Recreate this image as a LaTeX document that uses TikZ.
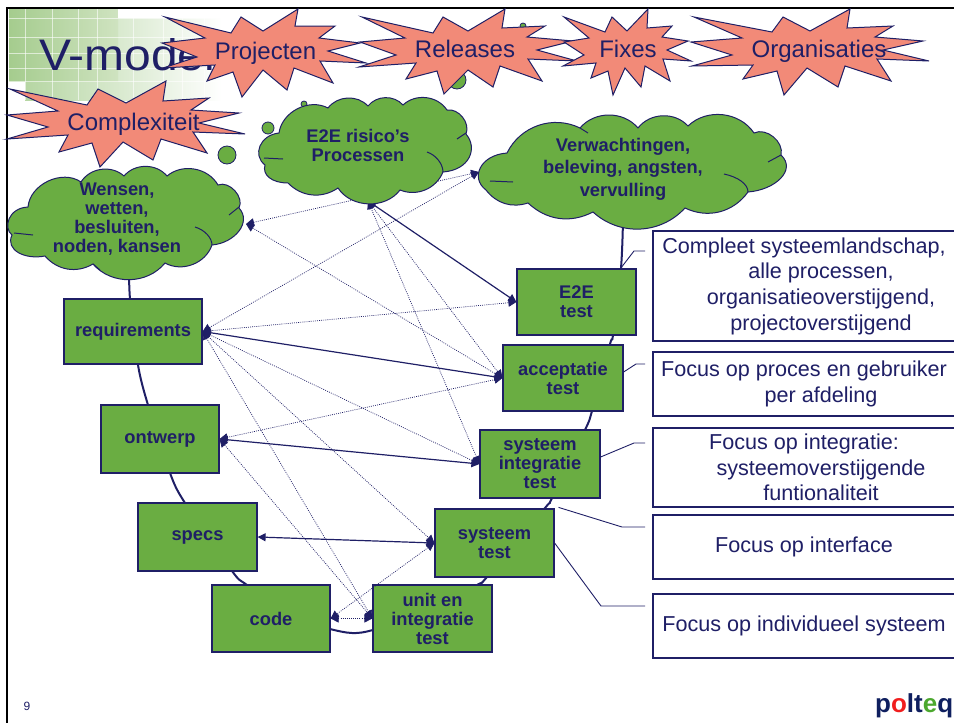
\documentclass[tikz,border=0pt]{standalone}
\usepackage{graphicx}
\usepackage{fontspec}
\setmainfont{Liberation Sans}
\usetikzlibrary{arrows.meta}
\definecolor{navy}{HTML}{1F1F66}
\definecolor{leaf}{HTML}{6AAD42}
\definecolor{salmon}{HTML}{F28A78}
\definecolor{logored}{HTML}{F01E1E}
\definecolor{logogreen}{HTML}{4CA82E}
\definecolor{logonavy}{HTML}{0F1F5F}
\definecolor{gridA}{HTML}{A5CC8E}
\definecolor{gridB}{HTML}{CFE3C0}
\definecolor{gridC}{HTML}{B6D6A3}
\tikzset{
  stepbox/.style={draw=navy,line width=1.2pt,fill=leaf,text=navy,inner sep=0pt,align=center,font=\fontsize{18.3}{19}\selectfont\bfseries},
  focusbox/.style={draw=navy,line width=1.1pt,fill=white,text=navy,inner sep=0pt,align=center,minimum width=302pt,font=\fontsize{21.6}{25.7}\selectfont},
  cloudfill/.style={draw=navy,line width=1pt,fill=leaf},
  cloudline/.style={draw=navy,line width=1pt},
  cloudtext/.style={text=navy,align=center,inner sep=0pt},
  starshape/.style={draw=navy,line width=1pt,fill=salmon,line join=miter},
  startext/.style={anchor=base,text=navy,inner sep=0pt,font=\fontsize{24}{26}\selectfont},
  bubble/.style={draw=navy,line width=.8pt,fill=leaf},
  vline/.style={draw=navy,line width=2pt},
  leader/.style={draw=navy,line width=.9pt},
  solidlink/.style={draw=navy,line width=1.2pt,{Triangle[length=8pt,width=8pt]}-{Triangle[length=8pt,width=8pt]}},
  dotlink/.style={draw=navy,line width=.7pt,dash pattern=on .9pt off 1.2pt,{Triangle[length=8pt,width=8pt]}-{Triangle[length=8pt,width=8pt]}},
}
\begin{document}
\begin{tikzpicture}[x=1pt,y=-1pt]
\useasboundingbox (0,0) rectangle (954,723);
% title backdrop
\shade[left color=gridC,right color=white] (25,18) rectangle (222,100);
\shade[left color=gridA,right color=gridB] (9,9) rectangle (118,81);
\foreach \gx in {25,52,78,97,133,163,182,204} \draw[white,line width=.8pt,opacity=.6] (\gx,9) -- (\gx,100);
\foreach \gy in {18,37,53,68,81} \draw[white,line width=.8pt,opacity=.6] (9,\gy) -- (222,\gy);
\fill[white] (118,8) rectangle (230,17.6);
\fill[white] (8,81.5) rectangle (24.6,102);
% frame
\draw[black,line width=2pt] (7,723) -- (7,8) -- (954,8);
\node[anchor=base west,inner sep=0pt,text=navy,font=\fontsize{48}{50}\selectfont] (title) at (39,70) {\scalebox{1}[.92]{V-model,}};
% bubbles
\draw[bubble] (227,155) circle (9);
\draw[bubble] (268,128) circle (6);
\draw[bubble] (304,104) circle (3);
\draw[bubble] (457,80) circle (9);
\draw[bubble] (523,26) circle (3);
% V curve
\draw[vline] plot[smooth,tension=.5] coordinates {(129,262)(130,299)(138,365)(148,405)(170,473)(185,503)(232,571)(247,585)(300,620)(330,629)(352,633)(373,630)(430,612)(477,585)(487,577)(545,508)(552,498)(585,430)(592,411)(610,344)(613,335)(621,268)(623,220)};
% stars
\draw[starshape] (165,17)--(231,33)--(241,17)--(263,31)--(298,9)--(295,26)--(335,26)--(319,38)--(360,43)--(328,51)--(366,63)--(320,61)--(333,83)--(294,68)--(287,90)--(263,70)--(242,97)--(233,72)--(207,81)--(215,65)--(163,68)--(197,57)--(162,43)--(205,38)--cycle;
\draw[starshape] (362,17)--(433,33)--(443,17)--(468,31)--(505,9)--(502,28)--(545,26)--(527,37)--(573,41)--(537,50)--(577,61)--(528,59)--(542,81)--(500,66)--(493,87)--(468,70)--(444,94)--(437,71)--(406,79)--(416,63)--(359,67)--(396,55)--(360,42)--(405,38)--cycle;
\draw[starshape] (564,17)--(605,32)--(612,17)--(627,31)--(648,9)--(647,28)--(672,26)--(662,37)--(688,41)--(667,50)--(691,61)--(663,59)--(670,81)--(645,66)--(641,87)--(625,68)--(613,95)--(608,71)--(591,78)--(596,63)--(563,66)--(584,55)--(564,42)--(589,38)--cycle;
\draw[starshape] (694,17)--(772,32)--(783,17)--(810,31)--(850,9)--(847,28)--(893,26)--(875,37)--(923,41)--(883,50)--(929,61)--(877,59)--(891,81)--(845,66)--(838,87)--(807,68)--(784,95)--(777,71)--(743,79)--(753,65)--(692,66)--(732,55)--(691,42)--(742,38)--cycle;
\draw[starshape] (10,89)--(87,105)--(98,89)--(126,103)--(166,81)--(163,101)--(209,98)--(191,110)--(239,113)--(199,123)--(245,134)--(193,132)--(207,153)--(161,139)--(153,160)--(123,142)--(100,167)--(92,143)--(59,152)--(68,135)--(7,139)--(48,127)--(7,115)--(58,111)--cycle;
\node[startext] (sproj) at (265.5,59) {Projecten};
\node[startext] (srel) at (465,57) {Releases};
\node[startext] (sfix) at (628,57) {Fixes};
\node[startext] (sorg) at (819,57) {Organisaties};
\node[startext] (scomp) at (133.5,130) {Complexiteit};
% port coordinates on the clouds
\coordinate (portA) at (246,224);
\coordinate (portB) at (368,201);
\coordinate (portC) at (479,172);
% boxes
\node[stepbox,minimum width=138pt,minimum height=65pt] (req) at (133,331.5) {requirements};
\node[stepbox,minimum width=118pt,minimum height=68pt] (ont) at (160,439) {ontwerp};
\node[stepbox,minimum width=119pt,minimum height=68pt] (spc) at (197.5,537) {specs};
\node[stepbox,minimum width=118pt,minimum height=67pt] (cod) at (271,618.5) {code};
\node[stepbox,minimum width=119pt,minimum height=67pt] (uni) at (432.5,618.5) {unit en\\integratie\\test};
\node[stepbox,minimum width=119pt,minimum height=68pt] (sys) at (494.5,543) {systeem\\test};
\node[stepbox,minimum width=120pt,minimum height=68pt] (sin) at (540,464) {systeem\\integratie\\test};
\node[stepbox,minimum width=120pt,minimum height=66pt] (acc) at (563,378) {acceptatie\\test};
\node[stepbox,minimum width=119pt,minimum height=66pt] (e2e) at (576.5,302) {E2E\\test};
% links
\draw[dotlink] (portA) -- (portC);
\draw[dotlink] (portA) -- (acc.west);
\draw[dotlink] (portB) -- (acc.west);
\draw[dotlink] (portB) -- (sin.west);
\draw[dotlink] (req.east) -- (portC);
\draw[dotlink] (req.east) -- (e2e.west);
\draw[dotlink] (req.east) -- (sin.west);
\draw[dotlink] (req.east) -- (sys.west);
\draw[dotlink] (req.east) -- (uni.west);
\draw[dotlink] (ont.east) -- (acc.west);
\draw[dotlink] (ont.east) -- (uni.west);
\draw[dotlink] (sys.west) -- (cod.east);
\draw[dotlink] (cod.east) -- (uni.west);
\draw[solidlink] (portB) -- (e2e.west);
\draw[solidlink] (req.east) -- (acc.west);
\draw[solidlink] (ont.east) -- (sin.west);
\draw[solidlink] (spc.east) -- (sys.west);
% clouds
\draw[cloudfill] (28,207) to[bend left=60] (81,182) to[bend left=50] (124,176) to[bend left=50] (167,176) to[bend left=50] (218,185) to[bend left=70] (239,208) .. controls (252,222) and (235,243) .. (212,245) to[bend left=50] (165,263) to[bend left=50] (93,264) to[bend left=40] (45,256) .. controls (25,260) and (5,250) .. (12,235) .. controls (3,228) and (8,208) .. (28,207) -- cycle;
\draw[cloudline] (195,227) .. controls (205,230) and (212,238) .. (212,245);
\draw[cloudline] (229,215) -- (239,207);
\draw[cloudline] (33,235) -- (14,233);
\draw[cloudline] (93,264) -- (100,270);
\draw[cloudfill] (279,133) to[bend left=55] (328,108) to[bend left=50] (368,106) to[bend left=50] (403,105) to[bend left=50] (447,110) to[bend left=60] (466,134) .. controls (478,148) and (470,170) .. (443,172) to[bend left=45] (400,190) to[bend left=55] (338,188) to[bend left=40] (288,183) .. controls (272,183) and (262,175) .. (265,165) .. controls (252,155) and (260,135) .. (279,133) -- cycle;
\draw[cloudline] (427,152) .. controls (436,155) and (443,164) .. (443,172);
\draw[cloudline] (457,139) -- (466,133);
\draw[cloudline] (283,159) -- (264,158);
\draw[cloudfill] (507,153) to[bend left=45] (580,128) to[bend left=50] (638,128) to[bend left=50] (688,126) to[bend left=50] (754,133) to[bend left=65] (781,155) .. controls (797,170) and (775,190) .. (748,192) to[bend left=40] (685,208) to[bend left=45] (593,212) to[bend left=35] (528,203) to[bend left=35] (486,190) .. controls (470,178) and (480,155) .. (507,153) -- cycle;
\draw[cloudline] (724,174) .. controls (738,177) and (748,184) .. (748,192);
\draw[cloudline] (768,162) -- (781,155);
\draw[cloudline] (513,182) -- (490,181);
\draw[cloudline] (580,128) -- (588,133);
\node[cloudtext,font=\fontsize{18.3}{19}\selectfont\bfseries] (cloudA) at (117,219) {Wensen,\\wetten,\\besluiten,\\noden, kansen};
\node[cloudtext,font=\fontsize{18.3}{19}\selectfont\bfseries] (cloudB) at (358,145) {E2E risico’s\\Processen};
\node[cloudtext,font=\fontsize{18.3}{22.5}\selectfont\bfseries] (cloudC) at (623,169) {Verwachtingen,\\beleving, angsten,\\vervulling};
% focus boxes
\node[focusbox,minimum height=110pt] (f1) at (804,286) {Compleet systeemlandschap,\\\hspace*{34pt}alle processen,\\\hspace*{34pt}organisatieoverstijgend,\\\hspace*{34pt}projectoverstijgend};
\node[focusbox,minimum height=64pt] (f2) at (804,384) {Focus op proces en gebruiker\\\hspace*{34pt}per afdeling};
\node[focusbox,minimum height=79pt] (f3) at (804,467.5) {Focus op integratie:\\\hspace*{34pt}systeemoverstijgende\\\hspace*{34pt}funtionaliteit};
\node[focusbox,minimum height=64pt] (f4) at (804,547) {Focus op interface};
\node[focusbox,minimum height=64pt] (f5) at (804,626) {Focus op individueel systeem};
% leaders
\coordinate (l1) at (645,251);
\coordinate (l2) at (645,364);
\coordinate (l3) at (645,443);
\coordinate (l4) at (645,527);
\coordinate (l5) at (645,606);
\draw[leader] (e2e.north east) ++(-16,0) -- (634,251) -- (l1);
\draw[leader] (acc.east) ++(0,-6) -- (636,364) -- (l2);
\draw[leader] (sin.east) ++(0,-7) -- (634,443) -- (l3);
\draw[leader] (sys.north east) ++(4,-1) -- (622,527) -- (l4);
\draw[leader] (sys.east) -- (601,606) -- (l5);
% footer
\node[anchor=base,inner sep=0pt,text=navy,font=\fontsize{12}{14}\selectfont] (pageno) at (27,710) {9};
\node[anchor=base west,inner sep=0pt,font=\fontsize{26}{28}\selectfont\bfseries] (logo) at (875,712) {\textcolor{logonavy}{p}\textcolor{logored}{o}\textcolor{logonavy}{lt}\textcolor{logogreen}{e}\textcolor{logonavy}{q}};
\end{tikzpicture}
\end{document}
